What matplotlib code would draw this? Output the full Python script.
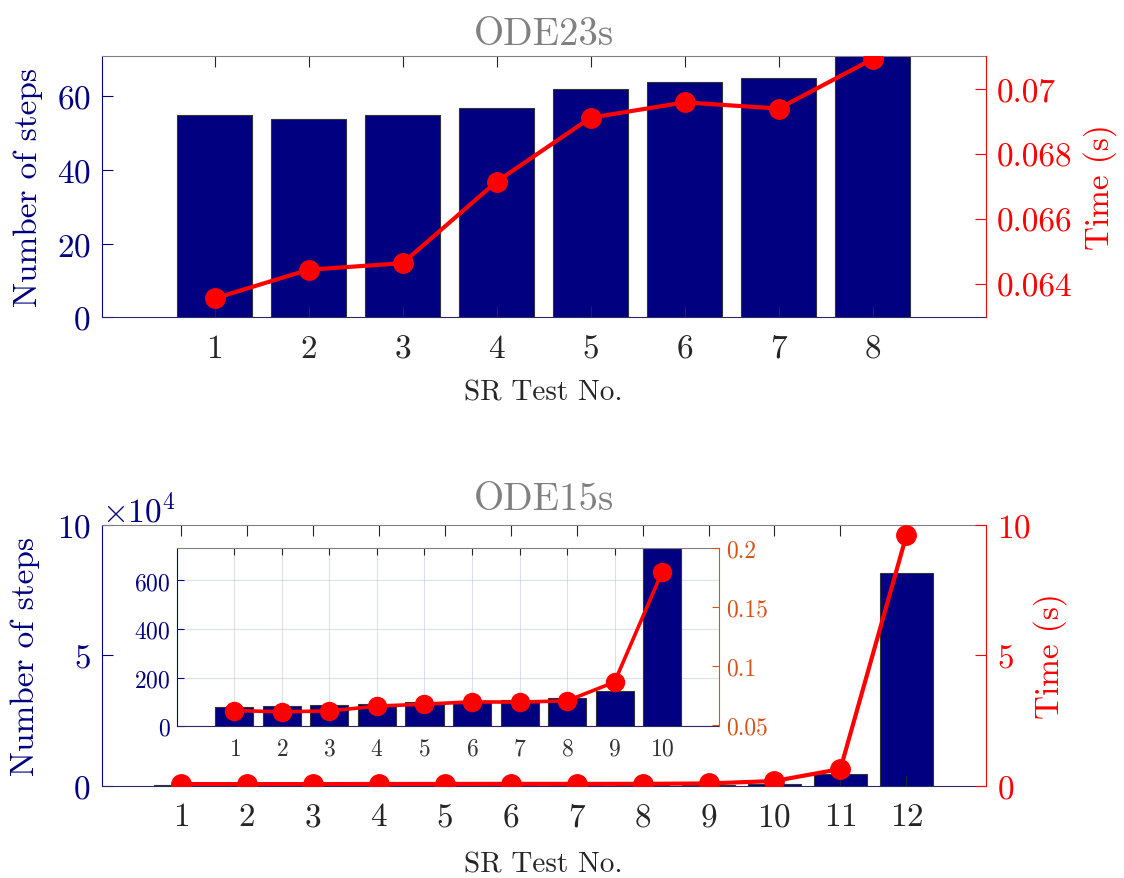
import numpy as np
import matplotlib.pyplot as plt
import matplotlib as mpl
from matplotlib.ticker import FuncFormatter, ScalarFormatter

mpl.rcParams['font.family'] = 'cmr10'
mpl.rcParams['mathtext.fontset'] = 'cm'
mpl.rcParams['axes.formatter.use_mathtext'] = True

navy = '#000080'
red = '#ff0000'
orange = '#d95319'
dark = '#262626'

# ODE23s runs
tests23 = [1, 2, 3, 4, 5, 6, 7, 8]
steps23 = [55, 54, 55, 57, 62, 64, 65, 71]
time23 = [0.06357, 0.06445, 0.06465, 0.06715, 0.06911, 0.06958, 0.06939, 0.07091]

# ODE15s runs
tests15 = [1, 2, 3, 4, 5, 6, 7, 8, 9, 10, 11, 12]
steps15 = [80, 84, 88, 91, 99, 102, 107, 118, 144, 780, 4600, 81400]
time15 = [0.0625, 0.0614, 0.0622, 0.0662, 0.0679, 0.0698, 0.0696, 0.0707,
          0.0865, 0.1793, 0.64, 9.59]

gfmt = FuncFormatter(lambda v, p: '%g' % v)


def style(ax, axr, fs, xpad, lpad, rpad, rcol):
    ax.spines['left'].set_color(navy)
    ax.spines['top'].set_color('#808080')
    ax.spines['bottom'].set_color('#2a2a6a')
    ax.spines['right'].set_visible(False)
    for s in ['left', 'top', 'bottom']:
        axr.spines[s].set_visible(False)
    axr.spines['right'].set_color(rcol)
    ax.tick_params(axis='x', direction='in', top=True, length=8, color=dark,
                   labelcolor=dark, labelsize=fs, pad=xpad)
    ax.tick_params(axis='y', direction='in', length=8, color=navy,
                   labelcolor=navy, labelsize=fs, pad=lpad)
    axr.tick_params(axis='y', direction='in', length=8, color=rcol,
                    labelcolor=rcol, labelsize=fs, pad=rpad)


fig = plt.figure(figsize=(11.24, 8.79), dpi=100)

# --- ODE23s ---
ax1 = fig.add_axes([0.0905, 0.6382, 0.7863, 0.2969])
ax1.bar(tests23, steps23, width=0.8, color=navy, edgecolor='#333333', linewidth=0.8)
ax1.set_xlim(-0.2, 9.2)
ax1.set_ylim(0, 71)
ax1.set_xticks(tests23)
ax1.set_yticks([0, 20, 40, 60])
ax1r = ax1.twinx()
ax1r.plot(tests23, time23, '-o', color=red, lw=3, ms=14)
ax1r.set_ylim(0.0630, 0.0710)
ax1r.set_yticks([0.064, 0.066, 0.068, 0.07])
ax1r.yaxis.set_major_formatter(gfmt)
style(ax1, ax1r, 24, 12, 8, 8, red)
ax1.set_title('ODE23s', color='#808080', fontsize=28, pad=9)
ax1.set_xlabel('SR Test No.', color=dark, fontsize=21, labelpad=12)
ax1.set_ylabel('Number of steps', color=navy, fontsize=24, labelpad=10)
ax1r.set_ylabel('Time (s)', color=red, fontsize=24, labelpad=8)

# --- ODE15s ---
ax2 = fig.add_axes([0.0905, 0.1050, 0.7863, 0.2969])
ax2.bar(tests15, steps15, width=0.8, color=navy, edgecolor='#333333', linewidth=0.8)
ax2.set_xlim(-0.2, 13.2)
ax2.set_ylim(0, 1e5)
ax2.set_xticks(tests15)
ax2.set_yticks([0, 5e4, 1e5])
sf = ScalarFormatter(useMathText=True)
sf.set_powerlimits((4, 4))
ax2.yaxis.set_major_formatter(sf)
ax2r = ax2.twinx()
ax2r.plot(tests15, time15, '-o', color=red, lw=3, ms=14)
ax2r.set_ylim(0, 10)
ax2r.set_yticks([0, 5, 10])
style(ax2, ax2r, 24, 12, 8, 8, red)
ax2.yaxis.get_offset_text().set_fontsize(24)
ax2.yaxis.get_offset_text().set_color(navy)
ax2.set_title('ODE15s', color='#808080', fontsize=28, pad=11)
ax2.set_xlabel('SR Test No.', color=dark, fontsize=21, labelpad=14)
ax2.set_ylabel('Number of steps', color=navy, fontsize=24, labelpad=12)
ax2r.set_ylabel('Time (s)', color=red, fontsize=24, labelpad=2)

# --- zoomed inset, tests 1-10 ---
n = 10
axi = fig.add_axes([0.1579, 0.1726, 0.4818, 0.2032])
axi.bar(tests15[:n], steps15[:n], width=0.8, color=navy, edgecolor='#333333',
        linewidth=0.8, zorder=2)
axi.set_xlim(-0.2, 11.2)
axi.set_ylim(0, 735)
axi.set_xticks(tests15[:n])
axi.set_yticks([0, 200, 400, 600])
axi.set_axisbelow(True)
axi.grid(True, color='#c9d5e4', lw=0.8, alpha=0.7)
axir = axi.twinx()
axir.plot(tests15[:n], time15[:n], '-o', color=red, lw=2.6, ms=13)
axir.set_ylim(0.0492, 0.2)
axir.set_yticks([0.05, 0.1, 0.15, 0.2])
axir.yaxis.set_major_formatter(gfmt)
style(axi, axir, 17, 8, 5, 5, orange)
axi.tick_params(axis='x', length=5, labelcolor='#333333')
axi.tick_params(axis='y', length=5)
axir.tick_params(axis='y', length=5)

fig.savefig('out.png', dpi=100)
